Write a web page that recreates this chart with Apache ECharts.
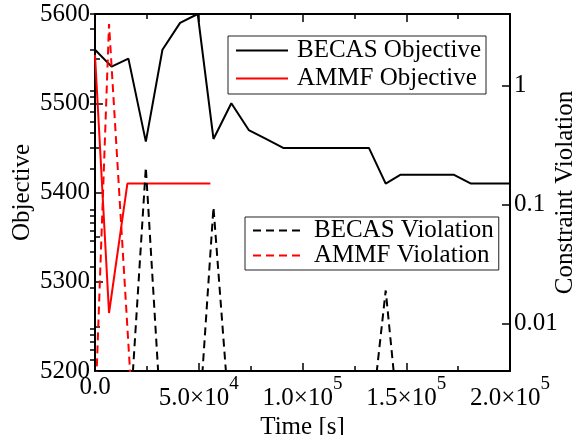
<!DOCTYPE html>
<html>
<head>
<meta charset="utf-8">
<script src="https://cdn.jsdelivr.net/npm/echarts@6/dist/echarts.min.js"></script>
<style>
html,body{margin:0;padding:0;background:#fff;}
#chart{width:579px;height:435px;}
</style>
</head>
<body>
<div id="chart"></div>
<script>
// ---- data ----
var becasTime = [0, 8000, 16100, 24500, 32500, 41000, 49500, 57100, 65700, 74100, 82400, 90700, 99000, 107300, 115600, 123900, 132000, 140100, 147300, 156000, 164400, 172800, 181200, 189600, 200000];
var becasObjective = [5560, 5541, 5550, 5457, 5560, 5590, 5600, 5460, 5500, 5470, 5460, 5450, 5450, 5450, 5450, 5450, 5450, 5410, 5420, 5420, 5420, 5420, 5410, 5410, 5410];
var becasViolation = [0.001, 0.001, 0.001, 0.206, 0.001, 0.001, 0.001, 0.095, 0.001, 0.001, 0.001, 0.001, 0.001, 0.001, 0.001, 0.001, 0.001, 0.019, 0.001, 0.001, 0.001, 0.001, 0.001, 0.001, 0.001];

var ammfObjTime = [0, 6760, 15600, 23800, 32000, 40000, 48000, 55600];
var ammfObjective = [5554, 5265, 5410, 5410, 5410, 5410, 5410, 5410];
var ammfVioTime = [0, 6760, 18000];
var ammfViolation = [0.0016, 3.3, 0.0019];

var objTicks = [5200, 5300, 5400, 5500, 5600];
var vioTickValues = [0.01, 0.1, 1];
var vioTickLabels = ['0.01', '0.1', '1'];
var vioMinorTicks = [0.005, 0.006, 0.007, 0.008, 0.009, 0.02, 0.03, 0.04, 0.05, 0.06, 0.07, 0.08, 0.09,
                     0.2, 0.3, 0.4, 0.5, 0.6, 0.7, 0.8, 0.9, 2, 3, 4];
var xTickMantissa = ['0.0', '5.0', '1.0', '1.5', '2.0'];
var xTickExponent = [null, '4', '5', '5', '5'];

// ---- chart ----
var FONT = 'Liberation Serif';
function pairs(xs, ys) { return xs.map(function (x, i) { return [x, ys[i]]; }); }

var chart = echarts.init(document.getElementById('chart'), null, {renderer: 'canvas'});
var axisLineStyle = {color: '#000', width: 2};
var tickStyle = {color: '#000', width: 1.5};
var gridRect = {left: 95, right: 69, top: 14, bottom: 64, containLabel: false, outerBoundsMode: 'none'};

var option = {
  animation: false,
  backgroundColor: '#fff',
  grid: [gridRect, Object.assign({}, gridRect)],
  xAxis: [{
    type: 'value', gridIndex: 0, position: 'bottom', min: 0, max: 200000, interval: 50000,
    name: 'Time [s]', nameLocation: 'middle', nameGap: 44, nameMoveOverlap: false,
    nameTextStyle: {fontFamily: FONT, fontSize: 25, color: '#000'},
    axisLine: {show: true, onZero: false, lineStyle: axisLineStyle},
    axisTick: {show: true, inside: true, length: 8, lineStyle: tickStyle},
    minorTick: {show: true, splitNumber: 2, length: 5, lineStyle: tickStyle},
    splitLine: {show: false},
    axisLabel: {
      margin: 4, fontFamily: FONT, fontSize: 25, color: '#000',
      formatter: function (v) {
        var i = Math.round(v / 50000);
        var m = xTickMantissa[i], e = xTickExponent[i];
        if (e == null) return m;
        return '{b|' + m + '×10}{s|' + e + '}';
      },
      rich: {
        b: {fontFamily: FONT, fontSize: 25, color: '#000', lineHeight: 36, verticalAlign: 'bottom'},
        s: {fontFamily: FONT, fontSize: 19, color: '#000', lineHeight: 19, verticalAlign: 'top'}
      }
    }
  }, {
    type: 'value', gridIndex: 0, position: 'top', min: 0, max: 200000, interval: 50000,
    axisLine: {show: true, onZero: false, lineStyle: axisLineStyle},
    axisTick: {show: true, inside: true, length: 8, lineStyle: tickStyle},
    minorTick: {show: true, splitNumber: 2, length: 5, lineStyle: tickStyle},
    splitLine: {show: false},
    axisLabel: {show: false}
  }, {
    type: 'value', gridIndex: 1, min: 0, max: 200000, show: false
  }],
  yAxis: [{
    type: 'value', gridIndex: 0, position: 'left', min: objTicks[0], max: objTicks[objTicks.length - 1], interval: 100,
    name: 'Objective', nameLocation: 'middle', nameGap: 60, nameMoveOverlap: false,
    nameTextStyle: {fontFamily: FONT, fontSize: 25, color: '#000'},
    axisLine: {show: true, onZero: false, lineStyle: axisLineStyle},
    axisTick: {show: true, inside: true, length: 8, lineStyle: tickStyle},
    minorTick: {show: true, splitNumber: 2, length: 5, lineStyle: tickStyle},
    splitLine: {show: false},
    axisLabel: {margin: 5, fontFamily: FONT, fontSize: 25, color: '#000',
      formatter: function (v) { return String(v); }}
  }, {
    type: 'log', gridIndex: 0, position: 'right', min: 0.004, max: 4, logBase: 10,
    name: 'Constraint Violation', nameLocation: 'middle', nameGap: 43, nameMoveOverlap: false,
    nameTextStyle: {fontFamily: FONT, fontSize: 25, color: '#000'},
    axisLine: {show: true, onZero: false, lineStyle: axisLineStyle},
    axisTick: {show: true, inside: true, length: 8, lineStyle: tickStyle, customValues: vioTickValues},
    splitLine: {show: false},
    axisLabel: {
      margin: 4, fontFamily: FONT, fontSize: 25, color: '#000',
      customValues: vioTickValues,
      formatter: function (v) {
        for (var i = 0; i < vioTickValues.length; i++) {
          if (Math.abs(Math.log10(v) - Math.log10(vioTickValues[i])) < 1e-6) return vioTickLabels[i];
        }
        return '';
      }
    }
  }, {
    type: 'log', gridIndex: 1, position: 'right', min: 0.004, max: 4, logBase: 10,
    axisLine: {show: false},
    axisTick: {show: true, inside: true, length: 5, lineStyle: tickStyle, customValues: vioMinorTicks},
    axisLabel: {show: false},
    splitLine: {show: false}
  }],
  legend: [{
    orient: 'vertical', left: 228, top: 36,
    data: ['BECAS Objective', 'AMMF Objective'],
    itemWidth: 52, itemHeight: 14, itemGap: 3,
    padding: [2, 5, 3, 7],
    borderColor: '#222', borderWidth: 1, backgroundColor: '#fff',
    itemStyle: {opacity: 0},
    textStyle: {fontFamily: FONT, fontSize: 25, color: '#000', lineHeight: 25, padding: [0, 0, 0, 4]}
  }, {
    orient: 'vertical', left: 245, top: 217,
    data: ['BECAS Violation', 'AMMF Violation'],
    itemWidth: 52, itemHeight: 14, itemGap: 0,
    padding: [1, 5, 2, 7],
    borderColor: '#222', borderWidth: 1, backgroundColor: '#fff',
    itemStyle: {opacity: 0},
    textStyle: {fontFamily: FONT, fontSize: 25, color: '#000', lineHeight: 23, padding: [0, 0, 0, 4]}
  }],
  series: [{
    name: 'BECAS Objective', type: 'line', xAxisIndex: 0, yAxisIndex: 0,
    data: pairs(becasTime, becasObjective), symbol: 'none', clip: true,
    lineStyle: {color: '#000', width: 2}, itemStyle: {color: '#000'}
  }, {
    name: 'AMMF Objective', type: 'line', xAxisIndex: 0, yAxisIndex: 0,
    data: pairs(ammfObjTime, ammfObjective), symbol: 'none', clip: true,
    lineStyle: {color: '#ff0000', width: 2}, itemStyle: {color: '#ff0000'}
  }, {
    name: 'BECAS Violation', type: 'line', xAxisIndex: 0, yAxisIndex: 1,
    data: pairs(becasTime, becasViolation), symbol: 'none', clip: true,
    lineStyle: {color: '#000', width: 2, type: [8, 5]}, itemStyle: {color: '#000'}
  }, {
    name: 'AMMF Violation', type: 'line', xAxisIndex: 0, yAxisIndex: 1,
    data: pairs(ammfVioTime, ammfViolation), symbol: 'none', clip: true,
    lineStyle: {color: '#ff0000', width: 2, type: [8, 5]}, itemStyle: {color: '#ff0000'}
  }]
};
chart.setOption(option);
</script>
</body>
</html>
